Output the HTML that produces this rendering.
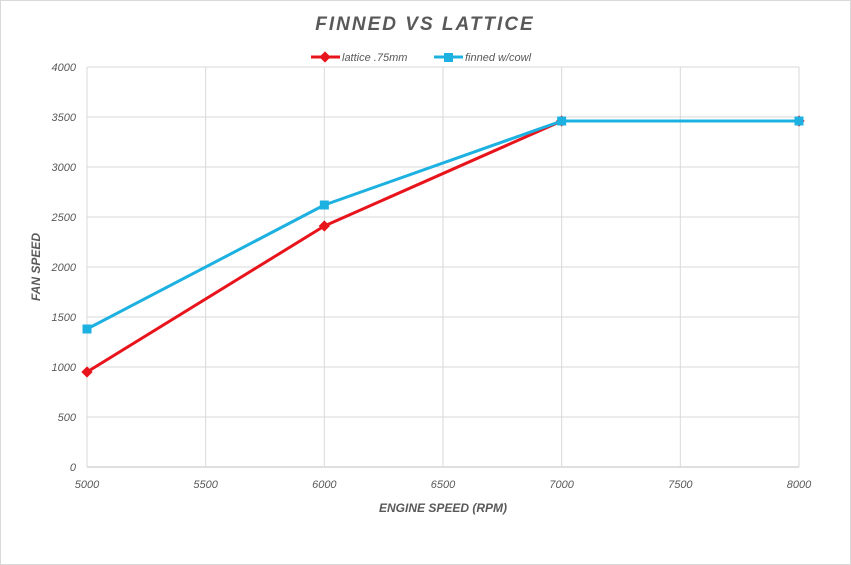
<!DOCTYPE html>
<html><head><meta charset="utf-8"><style>
body{margin:0;background:#fff;}
svg{display:block;font-family:"Liberation Sans",sans-serif;}
</style></head><body>
<svg id="chart" width="851" height="565" viewBox="0 0 851 565">
<rect x="0.5" y="0.5" width="850" height="564" fill="#fff" stroke="#d9d9d9"/>
<text x="425" y="30" text-anchor="middle" font-size="19" font-style="italic" font-weight="bold" fill="#595959" letter-spacing="2">FINNED VS LATTICE</text>
<g id="grid"></g>
<g id="series"></g>
<g>
 <g>
  <line x1="311" y1="57" x2="340" y2="57" stroke="#e8141c" stroke-width="3"/>
  <rect x="321" y="53" width="8" height="8" fill="#e8141c" transform="rotate(45 325 57)"/>
  <text x="342" y="61" font-size="11" font-style="italic" fill="#595959">lattice .75mm</text>
 </g>
 <g>
  <line x1="434" y1="57" x2="463" y2="57" stroke="#1cb1e0" stroke-width="3"/>
  <rect x="444" y="53" width="9" height="9" fill="#1cb1e0"/>
  <text x="465" y="61" font-size="11" font-style="italic" fill="#595959">finned w/cowl</text>
 </g>
</g>
<text x="443" y="512" text-anchor="middle" font-size="12" font-style="italic" font-weight="bold" fill="#595959">ENGINE SPEED (RPM)</text>
<text x="0" y="0" transform="translate(40 267) rotate(-90)" text-anchor="middle" font-size="12" font-style="italic" font-weight="bold" fill="#595959">FAN SPEED</text>
</svg>
<script>
const categories=[5000,6000,7000,8000];
const latticeValues=[950,2410,3460,3460];
const finnedValues=[1380,2620,3460,3460];
const xTicks=[5000,5500,6000,6500,7000,7500,8000];
const yTicks=[0,500,1000,1500,2000,2500,3000,3500,4000];
const NS="http://www.w3.org/2000/svg";
const X0=87,X1=799,Y0=467,Y1=67;
const xs=v=>X0+(v-5000)/3000*(X1-X0);
const ys=v=>Y0-v/4000*(Y0-Y1);
function mk(tag,attrs,parent){const e=document.createElementNS(NS,tag);for(const k in attrs)e.setAttribute(k,attrs[k]);parent.appendChild(e);return e;}
const grid=document.getElementById('grid');
yTicks.forEach(t=>{
 const l=mk('line',{x1:X0,x2:X1,y1:ys(t),y2:ys(t),stroke:t===0?'#bfbfbf':'#d9d9d9','stroke-width':1},grid);
 
 
 const tx=mk('text',{x:76,y:ys(t)+4,'text-anchor':'end','font-size':11,'font-style':'italic',fill:'#595959'},grid);
 tx.textContent=t;
 
 
});
xTicks.forEach(t=>{
 const l=mk('line',{x1:xs(t),x2:xs(t),y1:Y1,y2:Y0,stroke:'#d9d9d9','stroke-width':1},grid);
 
 
 const tx=mk('text',{x:xs(t),y:488,'text-anchor':'middle','font-size':11,'font-style':'italic',fill:'#595959'},grid);
 tx.textContent=t;
 
 
});
const ser=document.getElementById('series');
function drawSeries(vals,color,name,marker){
 const g=mk('g',{},ser);
 
 
 const pts=vals.map((v,i)=>xs(categories[i])+','+ys(v)).join(' ');
 const pl=mk('polyline',{points:pts,fill:'none',stroke:color,'stroke-width':3,'stroke-linejoin':'round'},g);
 
 
 vals.forEach((v,i)=>{
  const x=xs(categories[i]),y=ys(v);
  let m;
  if(marker==='diamond') m=mk('rect',{x:x-4,y:y-4,width:8,height:8,fill:color,transform:`rotate(45 ${x} ${y})`},g);
  else m=mk('rect',{x:x-4.5,y:y-4.5,width:9,height:9,fill:color},g);
  
  
 });
}
drawSeries(latticeValues,'#e8141c','lattice-series','diamond');
drawSeries(finnedValues,'#1cb1e0','finned-series','square');
</script>
</body></html>
